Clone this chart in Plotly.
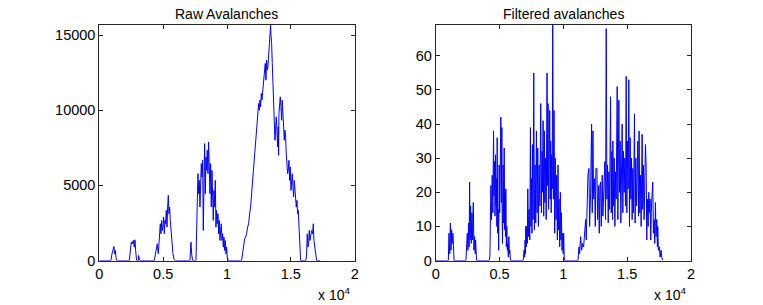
import plotly.graph_objects as go

# ---------------- data ----------------
raw_x = [0,
         914, 992, 1044, 1096, 1148, 1201, 1253, 1305, 1357,
         2349, 2427, 2506, 2584, 2662, 2741, 2793, 2845, 2897, 2923, 3054, 3080, 3132, 3184,
         4307, 4385, 4463, 4541, 4620, 4698, 4776, 4829, 4881, 4933, 4985, 5038, 5090, 5142, 5194,
         5246, 5299, 5351, 5403, 5455, 5507, 5559, 5612, 5664, 5716, 5768, 5846, 5925,
         7099, 7151, 7178, 7230, 7308,
         7569, 7621, 7673, 7726, 7778, 7830, 7882, 7934, 7987, 8039, 8091, 8143, 8195, 8248, 8300,
         8352, 8404, 8456, 8509, 8561, 8613, 8665, 8717, 8770, 8822, 8874, 8926, 8978, 9031, 9083,
         9135, 9187, 9239, 9292, 9344, 9396, 9448, 9500, 9553, 9605, 9657, 9709, 9761, 9814, 9866,
         9918, 9970, 10022, 10101,
         11145, 11223, 11301, 11380, 11458, 11536, 11614, 11693, 11771, 11849, 11928, 12006, 12084,
         12163, 12241, 12319, 12371, 12424, 12476, 12528, 12580, 12633, 12685, 12737, 12789, 12841,
         12894, 12946, 12998, 13050, 13102, 13155, 13207, 13259, 13311, 13363, 13389, 13416, 13442,
         13494, 13546, 13598, 13650, 13703, 13755, 13807, 13859, 13911, 13964, 14016, 14042, 14068,
         14120, 14172, 14225, 14277, 14329, 14381, 14433, 14486, 14538, 14590, 14642, 14694, 14747,
         14799, 14851, 14903, 14955, 15008, 15060, 15112, 15164, 15216, 15269, 15321, 15373, 15425,
         15477, 15530, 15582, 15634, 15686, 15738, 15764,
         16182, 16234, 16287, 16339, 16391, 16443, 16495, 16547, 16626, 16704, 16756, 16808, 16860,
         16913, 17017,
         17300]
raw_y = [0,
         0, 444, 667, 889, 933, 444, 667, 222, 0,
         0, 667, 1222, 1111, 1333, 889, 1378, 667, 222, 0, 0, 333, 111, 0,
         0, 444, 667, 1111, 444, 1556, 2444, 1778, 2667, 2000, 2222, 2889, 1778, 2667, 2444,
         3333, 2222, 3555, 4333, 3111, 3555, 2667, 2000, 1556, 889, 444, 111, 0,
         0, 667, 1222, 444, 0,
         0, 1778, 3555, 5777, 4444, 5333, 3555, 4888, 6444, 5555, 6666, 2000, 6222, 7777, 4444,
         6888, 6000, 7333, 5777, 7888, 6222, 4444, 6444, 3555, 6000, 4888, 2667, 4666, 3555, 5333,
         2222, 3333, 2444, 3111, 1778, 2667, 1333, 2000, 2444, 1333, 1778, 889, 1556, 667, 1333,
         444, 889, 222, 0,
         0, 444, 1111, 1444, 1556, 1778, 2222, 2444, 3111, 3555, 4444, 5333, 6222,
         6888, 7555, 8666, 9333, 9999, 10443, 9999, 10666, 10221, 11110, 10666, 11332, 11554,
         11999, 12665, 13110, 11999, 13332, 12665, 12888, 13776, 14443, 15110, 15554, 15687, 14999,
         14443, 13110, 11999, 10888, 9333, 7999, 8666, 9555, 8666, 7555, 8888, 7000, 9777,
         10666, 10888, 10221, 9333, 10666, 9999, 9333, 7999, 8666, 8222, 7111, 6444, 5777,
         6000, 6666, 5333, 6222, 4666, 5555, 5777, 4888, 4222, 5333, 4888, 4444, 3555,
         4000, 3111, 3333, 2444, 1333, 444, 0,
         0, 444, 1778, 889, 1111, 2000, 1333, 1556, 2000, 1778, 2444, 1333, 889,
         444, 0,
         0]

filt_x = [0,
          990, 1040, 1100, 1150, 1200, 1250, 1300, 1350, 1400, 1440,
          2370, 2474, 2526, 2578, 2617, 2656, 2695, 2734, 2786, 2838, 2890, 2943, 2995, 3047, 3099,
          3125, 3203,
          4192, 4245, 4323, 4375, 4427, 4479, 4531, 4570, 4609, 4648, 4688, 4727, 4765, 4792, 4817,
          4857, 4896, 4935, 4974, 5013, 5052, 5078, 5104, 5143, 5182, 5208, 5234, 5260, 5286, 5326,
          5365, 5404, 5443, 5469, 5495, 5534, 5573, 5612, 5651, 5690, 5729, 5768, 5807, 5859,
          6849, 6927, 6966, 7005, 7031, 7057, 7097, 7136, 7175, 7214, 7266, 7318, 7370, 7422, 7461,
          7500, 7539, 7578, 7630, 7682, 7734, 7786, 7838, 7890, 7943, 7995, 8047, 8099, 8164, 8229,
          8281, 8333, 8372, 8411, 8463, 8515, 8554, 8594, 8659, 8723, 8763, 8802, 8841, 8880, 8906,
          8932, 8971, 9010, 9049, 9088, 9127, 9167, 9219, 9271, 9323, 9375, 9427, 9479, 9531, 9583,
          9622, 9661, 9713, 9766, 9805, 9844, 9896, 9948, 9987, 10026, 10065, 10104,
          11145, 11223, 11275, 11353, 11432, 11510, 11588, 11666, 11744, 11796, 11848, 11926, 12004,
          12057, 12135, 12213, 12265, 12317, 12369, 12447, 12499, 12551, 12629, 12681, 12760, 12812,
          12864, 12916, 12968, 13046, 13098, 13150, 13202, 13254, 13306, 13359, 13411, 13463, 13515,
          13567, 13619, 13697, 13749, 13801, 13853, 13879, 13931, 13983, 14036, 14088, 14140, 14218,
          14270, 14348, 14400, 14452, 14504, 14556, 14608, 14661, 14713, 14765, 14817, 14869, 14921,
          14973, 15025, 15077, 15129, 15181, 15233, 15285, 15338, 15390, 15442, 15494, 15572, 15624,
          15676, 15728, 15780, 15832, 15884, 15936, 15988, 16041, 16093, 16171, 16223, 16275, 16327,
          16379, 16431, 16483, 16535, 16587, 16640, 16692, 16744, 16796, 16848, 16900, 16952, 17004,
          17056, 17108, 17160, 17212, 17264, 17317, 17369, 17395, 17447, 17525, 17577, 17655, 17707,
          17785]
filt_y = [0,
          0, 8, 2, 11, 3, 9, 5, 8, 2, 0,
          0, 8, 3, 11, 4, 23, 6, 16, 5, 14, 6, 17, 3, 7, 2,
          6, 0,
          0, 1, 22, 12, 25, 14, 38, 19, 29, 13, 31, 16, 24, 10, 36,
          8, 15, 3, 28, 14, 30, 18, 42, 17, 39, 12, 5, 16, 28, 11,
          33, 9, 20, 7, 21, 4, 10, 3, 5, 1, 7, 2, 3, 0,
          0, 3, 1, 6, 2, 10, 4, 10, 5, 21, 7, 15, 6, 39, 10,
          24, 8, 34, 12, 55, 9, 28, 11, 38, 14, 33, 10, 28, 16, 46,
          14, 32, 20, 41, 13, 38, 17, 30, 12, 55, 22, 46, 15, 41, 20,
          44, 18, 35, 14, 31, 21, 69.2, 18, 44, 8, 30, 12, 25, 6, 28,
          9, 18, 4, 20, 6, 14, 3, 8, 2, 8, 1, 0,
          0, 4, 2, 7, 3, 5, 4, 10, 12, 6, 14, 25, 27,
          10, 20, 40, 14, 38, 18, 24, 10, 27, 27, 12, 22, 8,
          22, 23, 10, 25, 13, 20, 29, 29, 12, 68, 18, 28, 11,
          26, 15, 48, 14, 32, 12, 35, 16, 30, 10, 26, 18, 51,
          12, 47, 20, 35, 11, 36, 40, 14, 32, 20, 30, 16, 54,
          14, 35, 21, 53, 10, 36, 18, 30, 12, 27, 14, 43, 11,
          30, 16, 28, 35, 13, 38, 14, 25, 10, 37, 15, 28, 12,
          22, 34, 28, 6, 18, 10, 20, 14, 18, 6, 16, 22, 23,
          8, 12, 5, 17, 7, 12, 4, 10, 3, 4, 1, 3, 1,
          0]

x_tickvals = [0, 5000, 10000, 15000, 20000]
x_ticktext = ["0", "0.5", "1", "1.5", "2"]
raw_yticks = [0, 5000, 10000, 15000]
raw_yticktext = ["0", "5000", "10000", "15000"]
filt_yticks = [0, 10, 20, 30, 40, 50, 60]
filt_yticktext = ["0", "10", "20", "30", "40", "50", "60"]
titles = ["Raw Avalanches", "Filtered avalanches"]
exponent_label = "x 10<sup>4</sup>"

# ---------------- figure ----------------
W, H = 763, 305
FONT = "Liberation Sans, Arial, Helvetica, sans-serif"
AX = "#262626"
BLUE = "#0000ff"

left_dom = [99.3 / W, 354.7 / W]
right_dom = [435.7 / W, 691.0 / W]
y_dom = [(H - 260.5) / H, (H - 24.5) / H]

fig = go.Figure()
fig.add_trace(go.Scatter(x=raw_x, y=raw_y, mode="lines",
                         line=dict(color=BLUE, width=1), xaxis="x", yaxis="y",
                         showlegend=False, hoverinfo="skip"))
fig.add_trace(go.Scatter(x=filt_x, y=filt_y, mode="lines",
                         line=dict(color=BLUE, width=1), xaxis="x2", yaxis="y2",
                         showlegend=False, hoverinfo="skip"))

common_axis = dict(showline=True, linecolor=AX, linewidth=1, mirror="ticks",
                   ticks="inside", ticklen=4, tickcolor=AX, tickwidth=1,
                   showgrid=False, zeroline=False, automargin=False,
                   tickfont=dict(family=FONT, size=14.5, color="#000000"))

fig.update_layout(
    width=W, height=H, autosize=False,
    margin=dict(l=0, r=0, t=0, b=0, pad=0, autoexpand=False),
    paper_bgcolor="white", plot_bgcolor="white",
    xaxis=dict(domain=left_dom, range=[0, 20000], tickvals=x_tickvals,
               ticktext=x_ticktext, anchor="y", **common_axis),
    yaxis=dict(domain=y_dom, range=[0, 15700], tickvals=raw_yticks,
               ticktext=raw_yticktext, anchor="x", **common_axis),
    xaxis2=dict(domain=right_dom, range=[0, 20000], tickvals=x_tickvals,
                ticktext=x_ticktext, anchor="y2", **common_axis),
    yaxis2=dict(domain=y_dom, range=[0, 69.2], tickvals=filt_yticks,
                ticktext=filt_yticktext, anchor="x2", **common_axis),
)

for dom, title in zip([left_dom, right_dom], titles):
    fig.add_annotation(x=(dom[0] + dom[1]) / 2, y=(H - 13.5) / H, xref="paper", yref="paper",
                       text=title, showarrow=False, xanchor="center", yanchor="middle",
                       font=dict(family=FONT, size=14, color="#000000"))
    fig.add_annotation(x=dom[1] - 4 / W, y=1.0 / H, xref="paper", yref="paper",
                       text=exponent_label, showarrow=False, xanchor="right", yanchor="bottom",
                       borderpad=0,
                       font=dict(family=FONT, size=14, color="#000000"))

fig.write_html(
    "out.html",
    config={"displayModeBar": False, "responsive": False, "staticPlot": True},
    default_width="763px", default_height="305px",
    post_script=("document.documentElement.style.margin='0';"
                 "document.body.style.margin='0';document.body.style.padding='0';"
                 "document.documentElement.style.overflow='hidden';"
                 "document.body.style.overflow='hidden';"),
)
